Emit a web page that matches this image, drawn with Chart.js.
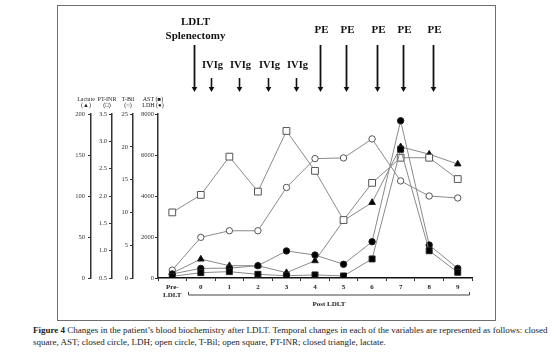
<!DOCTYPE html>
<html><head><meta charset="utf-8">
<script src="https://cdn.jsdelivr.net/npm/chart.js@4.4.0/dist/chart.umd.min.js"></script>
<style>
html,body{margin:0;padding:0;background:#fff;width:554px;height:356px;overflow:hidden;}
#wrap{position:absolute;left:0;top:0;width:554px;height:325px;}
#frame{position:absolute;left:57px;top:5px;width:437px;height:314px;border:1.5px solid #6e6e6e;}
#cap{position:absolute;left:33px;top:325px;width:521px;font-family:'Liberation Serif','Times New Roman',serif;font-size:9px;line-height:11.5px;color:#222;white-space:nowrap;}
</style></head><body>
<div id="frame"></div>
<div id="wrap"><canvas id="c"></canvas></div>
<div id="cap"><b>Figure 4</b> Changes in the patient’s blood biochemistry after LDLT. Temporal changes in each of the variables are represented as follows: closed<br>square, AST; closed circle, LDH; open circle, T-Bil; open square, PT-INR; closed triangle, lactate.</div>
<script>
// ---- data ----
const categories = [['Pre-','LDLT'],'0','1','2','3','4','5','6','7','8','9'];
const astValues = [80, 260, 310, 180, 110, 150, 100, 930, 6280, 1330, 280];
const ldhValues = [200, 470, 480, 600, 1320, 1120, 670, 1770, 7670, 1610, 470];
const tbilValues = [1.2, 6.2, 7.2, 7.2, 13.8, 18.2, 18.3, 21.2, 14.8, 12.5, 12.2];
const inrValues = [1.70, 2.02, 2.72, 2.08, 3.19, 2.46, 1.56, 2.24, 2.70, 2.70, 2.31];
const lactateValues = [6, 23, 15, 15, 6.5, 21, 70, 92, 160, 151, 139];
const eventLabels = ['LDLT|Splenectomy','IVIg','IVIg','IVIg','IVIg','PE','PE','PE','PE','PE'];
const eventPositions = [0.77, 1.37, 2.35, 3.37, 4.35, 5.16, 6.1, 7.16, 8.1, 9.12];
const axisHeaders = [['Lactate','(▲)'],['PT-INR','(□)'],['T-Bil','(○)'],['AST (■)','LDH (●)']];
const headerAxes = ['yLac','yInr','yBil','yMain'];

const serif = "'Liberation Serif','Times New Roman',serif";
const lineCol = '#8a8a8a';
const mk = '#222';

const overlay = {
  id:'overlay',
  afterDraw(chart){
    const ctx = chart.ctx, x = chart.scales.x, top = chart.chartArea.top;
    ctx.save();
    // axis headers
    ctx.fillStyle = '#222'; ctx.textAlign = 'center'; ctx.textBaseline = 'middle';
    ctx.font = `6px ${serif}`;
    axisHeaders.forEach((h,i)=>{
      const s = chart.scales[headerAxes[i]];
      const cx = s.right - 5;
      ctx.fillText(h[0], cx, top - 15);
      ctx.fillText(h[1], cx, top - 9);
    });
    // events
    ctx.fillStyle = '#111'; ctx.strokeStyle = '#111';
    eventPositions.forEach((p,i)=>{
      const px = Math.round(x.getPixelForValue(p)) + 0.5;
      const lbl = eventLabels[i];
      const isLong = lbl !== 'IVIg';
      const y1 = top - 22;
      const y0 = isLong ? top - 69 : top - 36;
      ctx.lineWidth = isLong ? 1.8 : 1.6;
      ctx.beginPath(); ctx.moveTo(px, y0); ctx.lineTo(px, y1 - 4); ctx.stroke();
      ctx.beginPath(); ctx.moveTo(px - 2.8, y1 - 5); ctx.lineTo(px + 2.8, y1 - 5); ctx.lineTo(px, y1); ctx.closePath(); ctx.fill();
      if (lbl.indexOf('|') >= 0) {
        const parts = lbl.split('|');
        ctx.font = `bold 11px ${serif}`;
        ctx.fillText(parts[0], px + 1, top - 92);
        ctx.fillText(parts[1], px + 1, top - 78);
      } else if (isLong) {
        ctx.font = `bold 11px ${serif}`;
        ctx.fillText(lbl, px + 1, top - 84);
      } else {
        ctx.font = `bold 10.5px ${serif}`;
        ctx.fillText(lbl, px + 1, top - 49);
      }
    });
    // Post LDLT bracket
    const by = chart.chartArea.bottom + 17;
    const lx = Math.round(x.getPixelForValue(0.55)) + 0.5, rx = Math.round(x.getPixelForValue(10.4)) + 0.5;
    ctx.strokeStyle = '#444'; ctx.lineWidth = 1;
    ctx.beginPath(); ctx.moveTo(lx, by - 3); ctx.lineTo(lx, by); ctx.lineTo(rx, by); ctx.lineTo(rx, by - 3); ctx.stroke();
    ctx.fillStyle = '#222'; ctx.font = `bold 7px ${serif}`;
    ctx.fillText('Post LDLT', (lx + rx) / 2, by + 9);
    ctx.restore();
  }
};

function yAxis(pos, weight, min, max, step, width, fmt, pad){
  return {
    type:'linear', position:pos, weight:weight, min:min, max:max,
    grid:{drawOnChartArea:false, drawTicks:true, tickLength:3, color:'#333', lineWidth:1},
    border:{display:true, color:'#333', width:1.5},
    ticks:{stepSize:step, color:'#333', padding:pad, font:{family:serif, size:6.5}, callback: fmt},
    afterFit(s){ s.width = width; }
  };
}

new Chart(document.getElementById('c'), {
  type:'line',
  data:{
    labels: categories,
    datasets:[
      {label:'AST', data:astValues, yAxisID:'yMain', pointStyle:'rect', pointRadius:4.2, pointBackgroundColor:'#000', pointBorderColor:mk, borderColor:lineCol, borderWidth:1, pointBorderWidth:1},
      {label:'LDH', data:ldhValues, yAxisID:'yMain', pointStyle:'circle', pointRadius:3.2, pointBackgroundColor:'#000', pointBorderColor:mk, borderColor:lineCol, borderWidth:1, pointBorderWidth:1},
      {label:'T-Bil', data:tbilValues, yAxisID:'yBil', pointStyle:'circle', pointRadius:3.2, pointBackgroundColor:'#fff', pointBorderColor:'#555', borderColor:lineCol, borderWidth:1, pointBorderWidth:1},
      {label:'PT-INR', data:inrValues, yAxisID:'yInr', pointStyle:'rect', pointRadius:4.8, pointBackgroundColor:'#fff', pointBorderColor:'#555', borderColor:lineCol, borderWidth:1, pointBorderWidth:1},
      {label:'Lactate', data:lactateValues, yAxisID:'yLac', pointStyle:'triangle', pointRadius:3.8, pointBackgroundColor:'#000', pointBorderColor:mk, borderColor:lineCol, borderWidth:1, pointBorderWidth:1}
    ]
  },
  options:{
    responsive:true, maintainAspectRatio:false, animation:false,
    layout:{padding:{left:70, right:82, top:114, bottom:27}},
    plugins:{legend:{display:false}, tooltip:{enabled:false}},
    elements:{line:{tension:0}},
    scales:{
      x:{
        type:'category', offset:true,
        grid:{display:true, drawOnChartArea:false, offset:true, tickLength:3, color:'#333'},
        border:{display:true, color:'#111', width:1.5},
        ticks:{color:'#222', padding:2, maxRotation:0, autoSkip:false, font:{family:serif, size:7, weight:'bold'}},
        afterFit(s){ s.height = 20; }
      },
      yMain: yAxis('left', 0, 0, 8000, 2000, 25, v => String(v), 1),
      yBil: yAxis('left', 1, 0, 25, 5, 21, v => String(v), 2),
      yInr: yAxis('left', 2, 0.5, 3.5, 0.5, 21, v => v.toFixed(1), 2),
      yLac: yAxis('left', 3, 0, 200, 50, 21, v => String(v), 3)
    }
  },
  plugins:[overlay]
});
</script>
</body></html>
